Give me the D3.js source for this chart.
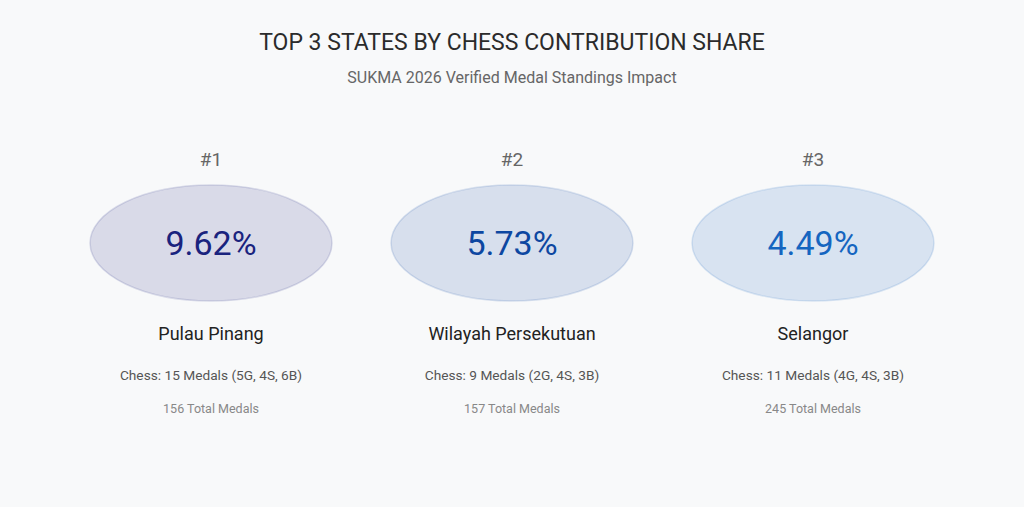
<!DOCTYPE html>
<html>
<head>
<meta charset="utf-8">
<script src="https://cdn.jsdelivr.net/npm/d3@7"></script>
<style>
  html, body { margin: 0; padding: 0; background: #f8f9fa; }
  svg { display: block; font-family: Roboto, "Open Sans", sans-serif; }
</style>
</head>
<body>
<div class="container_graph"></div>
<script>
const ranks = ["#1", "#2", "#3"];
const states = ["Pulau Pinang", "Wilayah Persekutuan", "Selangor"];
const shares = [9.62, 5.73, 4.49];
const chessMedals = [15, 9, 11];
const gold = [5, 2, 4];
const silver = [4, 4, 4];
const bronze = [6, 3, 3];
const totalMedals = [156, 157, 245];
const colors = ["#1a237e", "#0d47a1", "#1565c0"];

const width = 1024;
const height = 507;

const data = states.map((s, i) => ({
  rank: ranks[i],
  state: s,
  share: shares[i],
  chess: chessMedals[i],
  g: gold[i], s: silver[i], b: bronze[i],
  total: totalMedals[i],
  color: colors[i]
}));

const svg = d3
  .select(".container_graph")
  .append("svg")
  .attr("width", width)
  .attr("height", height);

svg.append("rect")
  .attr("width", width)
  .attr("height", height)
  .attr("fill", "#f8f9fa");

// titulos
svg.append("text")
  .attr("x", width / 2)
  .attr("y", 50)
  .attr("text-anchor", "middle")
  .attr("font-size", 23)
  .attr("fill", "#2b2b2b")
  .text("TOP 3 STATES BY CHESS CONTRIBUTION SHARE");

svg.append("text")
  .attr("x", width / 2)
  .attr("y", 83)
  .attr("text-anchor", "middle")
  .attr("font-size", 16)
  .attr("fill", "#666")
  .text("SUKMA 2026 Verified Medal Standings Impact");

// posicion de cada estado
const xScale = d3.scalePoint()
  .domain(states)
  .range([211, 813]);

const card = svg.selectAll("g.card")
  .data(data)
  .enter()
  .append("g")
  .attr("class", "card")
  .attr("transform", (d) => `translate(${xScale(d.state)}, 0)`);

card.append("text")
  .attr("y", 166)
  .attr("text-anchor", "middle")
  .attr("font-size", 19)
  .attr("fill", "#666")
  .text((d) => d.rank);

card.append("ellipse")
  .attr("cx", 0)
  .attr("cy", 243)
  .attr("rx", 121)
  .attr("ry", 58)
  .attr("fill", (d) => d.color)
  .attr("fill-opacity", 0.14)
  .attr("stroke", (d) => d.color)
  .attr("stroke-opacity", 0.14)
  .attr("stroke-width", 1.5);

card.append("text")
  .attr("y", 255)
  .attr("text-anchor", "middle")
  .attr("font-size", 34)
  .attr("fill", (d) => d.color)
  .text((d) => d.share.toFixed(2) + "%");

card.append("text")
  .attr("y", 340)
  .attr("text-anchor", "middle")
  .attr("font-size", 18)
  .attr("fill", "#222")
  .text((d) => d.state);

card.append("text")
  .attr("y", 380)
  .attr("text-anchor", "middle")
  .attr("font-size", 13.7)
  .attr("fill", "#555")
  .text((d) => `Chess: ${d.chess} Medals (${d.g}G, ${d.s}S, ${d.b}B)`);

card.append("text")
  .attr("y", 413)
  .attr("text-anchor", "middle")
  .attr("font-size", 12.5)
  .attr("fill", "#888")
  .text((d) => `${d.total} Total Medals`);
</script>
</body>
</html>
